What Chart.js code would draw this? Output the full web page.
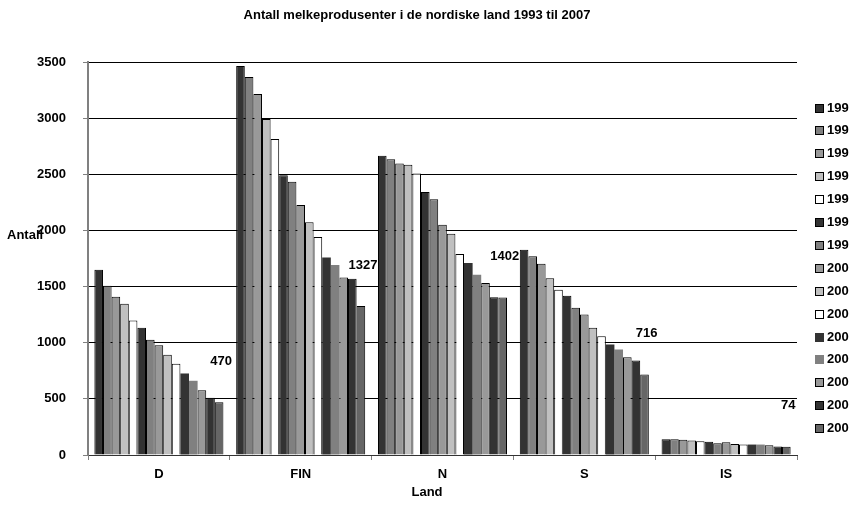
<!DOCTYPE html>
<html>
<head>
<meta charset="utf-8">
<script src="https://cdn.jsdelivr.net/npm/chart.js@4/dist/chart.umd.min.js"></script>
<style>
  html, body { margin: 0; padding: 0; background: #fff; }
  canvas { display: block; }
</style>
</head>
<body>
<canvas id="c" width="851" height="505"></canvas>
<script>
// ---- data ----
const categories = ['D', 'FIN', 'N', 'S', 'IS'];
const legendLabels = ['199','199','199','199','199','199','199','200','200','200','200','200','200','200','200'];
// values per country, one per year 1993..2007
const valD   = [1650, 1507, 1409, 1347, 1198, 1133, 1026, 978, 892, 812, 726, 661, 577, 509, 470];
const valFIN = [3465, 3367, 3215, 2992, 2814, 2491, 2434, 2226, 2072, 1941, 1760, 1691, 1581, 1570, 1327];
const valN   = [2666, 2633, 2595, 2586, 2506, 2342, 2277, 2051, 1971, 1789, 1709, 1606, 1531, 1406, 1402];
const valS   = [1828, 1771, 1703, 1573, 1472, 1418, 1311, 1252, 1133, 1058, 984, 940, 871, 842, 716];
const valIS  = [140, 140, 135, 129, 123, 117, 105, 114, 99, 93, 93, 93, 87, 75, 74];
const yTicks = [0, 500, 1000, 1500, 2000, 2500, 3000, 3500];

const titleText = 'Antall melkeprodusenter i de nordiske land 1993 til 2007';
const xTitle = 'Land';
const yTitle = 'Antall';

// ---- styles ----
const fills = ['#333333','#808080','#999999','#c0c0c0','#ffffff',
               '#333333','#808080','#999999','#c0c0c0','#ffffff',
               '#333333','#808080','#999999','#333333','#666666'];
const borders = [1,1,1,1,1, 1,1,1,1,1, 0,0,1,1,1];
const FONT = '"Liberation Sans", Arial, sans-serif';
const FS = 13;

const byCountry = [valD, valFIN, valN, valS, valIS];
const datasets = legendLabels.map((lab, i) => ({
  label: lab,
  data: byCountry.map(arr => arr[i]),
  backgroundColor: fills[i],
  borderColor: '#000000',
  borderWidth: borders[i],
  borderSkipped: 'bottom',
  categoryPercentage: 0.91,
  barPercentage: 1.0
}));

const textPlugin = {
  id: 'texts',
  beforeDraw(chart) {
    const ctx = chart.ctx;
    ctx.save();
    ctx.fillStyle = '#000';
    ctx.font = 'bold ' + FS + 'px ' + FONT;
    ctx.textAlign = 'left';
    ctx.textBaseline = 'middle';
    ctx.fillText(yTitle, 7, 235);
    ctx.restore();
  },
  afterDraw(chart) {
    const ctx = chart.ctx;
    ctx.save();
    ctx.fillStyle = '#000';
    ctx.font = 'bold ' + FS + 'px ' + FONT;
    ctx.textAlign = 'center';
    ctx.textBaseline = 'middle';
    ctx.fillText(titleText, 417, 15);
    ctx.fillText(xTitle, 427, 492);
    // legend
    ctx.textAlign = 'left';
    chart.data.datasets.forEach((ds, i) => {
      const y = 108 + i * 22.9;
      ctx.fillStyle = ds.backgroundColor;
      ctx.fillRect(815, Math.round(y - 4.5), 9, 9);
      if (ds.borderWidth) {
        ctx.strokeStyle = '#000';
        ctx.lineWidth = 1;
        ctx.strokeRect(815.5, Math.round(y - 4.5) + 0.5, 8, 8);
      }
      ctx.fillStyle = '#000';
      ctx.fillText(ds.label, 827, y);
    });
    // data labels on last series
    const last = chart.data.datasets.length - 1;
    const meta = chart.getDatasetMeta(last);
    ctx.textAlign = 'center';
    meta.data.forEach((el, j) => {
      ctx.fillText(String(chart.data.datasets[last].data[j]), el.x + 2, el.y - 41);
    });
    ctx.restore();
  }
};

new Chart(document.getElementById('c'), {
  type: 'bar',
  data: { labels: categories, datasets },
  options: {
    responsive: false,
    animation: false,
    layout: { padding: { left: 0, right: 54, top: 62, bottom: 0 } },
    plugins: {
      legend: { display: false },
      title: { display: false },
      tooltip: { enabled: false }
    },
    scales: {
      x: {
        afterFit: (s) => { s.height = 50; },
        grid: { display: true, drawOnChartArea: false, drawTicks: true, tickLength: 5, color: '#808080', offset: true },
        border: { display: true, color: '#333333', width: 1 },
        ticks: { color: '#000', font: { family: FONT, size: FS, weight: 'bold' }, padding: 7 }
      },
      y: {
        min: 0, max: 3500,
        afterFit: (s) => { s.width = 88; },
        afterBuildTicks: (s) => { s.ticks = yTicks.map(v => ({ value: v })); },
        grid: { color: '#000000', lineWidth: 1, tickColor: '#808080', tickLength: 5, drawTicks: true },
        border: { display: true, color: '#808080', width: 2 },
        ticks: {
          color: '#000', font: { family: FONT, size: FS, weight: 'bold' }, padding: 17,
          callback: (v) => String(v)
        }
      }
    }
  },
  plugins: [textPlugin]
});
</script>
</body>
</html>
